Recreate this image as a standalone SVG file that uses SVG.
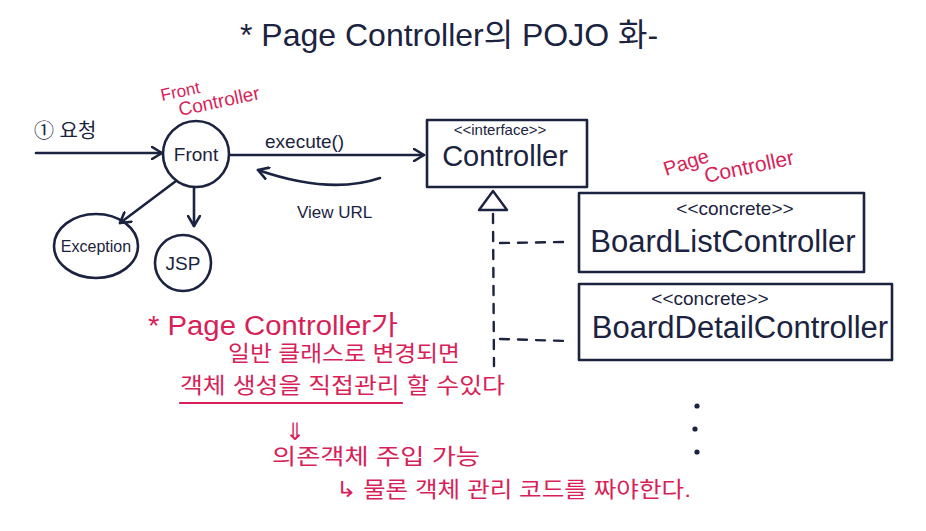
<svg xmlns="http://www.w3.org/2000/svg" width="926" height="531" viewBox="0 0 926 531">
<style>
.ink{fill:none;stroke:#1b2340;stroke-width:2.6;stroke-linecap:round;stroke-linejoin:round}
.dash{fill:none;stroke:#1b2340;stroke-width:2.4;stroke-dasharray:9 9;stroke-linecap:round}
.t{font-family:"Liberation Sans","Noto Sans CJK KR",sans-serif;fill:#1b2340}
.r{font-family:"Liberation Sans","Noto Sans CJK KR",sans-serif;fill:#d81f5a}
.rl{fill:none;stroke:#d81f5a;stroke-width:2.2;stroke-linecap:round}
</style>
<defs>
<marker id="open" markerWidth="14" markerHeight="14" refX="11" refY="7" orient="auto" markerUnits="userSpaceOnUse">
<path d="M1,1 L11,7 L1,13" fill="none" stroke="#1b2340" stroke-width="2.6" stroke-linecap="round" stroke-linejoin="round"/>
</marker>
</defs>
<rect width="926" height="531" fill="#ffffff"/>
<text class="t" x="240" y="46" font-size="32">* Page Controller의 POJO 화-</text>

<g id="request">
<text class="t" x="34" y="138" font-size="20">① 요청</text>
</g>

<g id="front">
<circle class="ink" cx="196" cy="154" r="33"/>
<text class="t" x="196" y="161" font-size="19" text-anchor="middle">Front</text>
<text class="r" x="162" y="101" font-size="17" transform="rotate(-12 162 101)">Front</text>
<text class="r" x="180" y="116" font-size="19" transform="rotate(-12 180 116)">Controller</text>
</g>

<g id="exception">
<ellipse class="ink" cx="96" cy="246" rx="42" ry="32"/>
<text class="t" x="96" y="252" font-size="16" text-anchor="middle">Exception</text>
</g>

<g id="jsp">
<circle class="ink" cx="183" cy="263" r="28"/>
<text class="t" x="183" y="270" font-size="19" text-anchor="middle">JSP</text>
</g>

<g id="controller">
<rect class="ink" x="427" y="120" width="160" height="67"/>
<text class="t" x="500" y="135" font-size="15" text-anchor="middle">&lt;&lt;interface&gt;&gt;</text>
<text class="t" x="505" y="166" font-size="29" text-anchor="middle">Controller</text>
</g>

<g id="pagecontroller-label">
<text class="r" x="666" y="176" font-size="20" transform="rotate(-18 666 176)">Page</text>
<text class="r" x="706" y="183" font-size="21" transform="rotate(-12 706 183)">Controller</text>
</g>

<g id="boardlist">
<rect class="ink" x="579" y="193" width="285" height="79"/>
<text class="t" x="735" y="215" font-size="19" text-anchor="middle">&lt;&lt;concrete&gt;&gt;</text>
<text class="t" x="723" y="252" font-size="31" text-anchor="middle">BoardListController</text>
</g>

<g id="boarddetail">
<rect class="ink" x="579" y="284" width="313" height="76"/>
<text class="t" x="710" y="305" font-size="19" text-anchor="middle">&lt;&lt;concrete&gt;&gt;</text>
<text class="t" x="740" y="338" font-size="31" text-anchor="middle">BoardDetailController</text>
</g>

<g id="connectors">
<line class="ink" x1="36" y1="153" x2="162" y2="153" marker-end="url(#open)"/>
<line class="ink" x1="176" y1="181" x2="120" y2="223" marker-end="url(#open)"/>
<line class="ink" x1="194" y1="188" x2="194" y2="226" marker-end="url(#open)"/>
<line class="ink" x1="230" y1="155" x2="424" y2="155" marker-end="url(#open)"/>
<text class="t" x="265" y="148" font-size="19">execute()</text>
<path class="ink" d="M380,178 Q330,195 258,170" marker-end="url(#open)"/>
<text class="t" x="297" y="218" font-size="17">View URL</text>
<path d="M493,191 L479,210 L507,210 Z" fill="#ffffff" stroke="#1b2340" stroke-width="2.4" stroke-linejoin="round"/>
<line class="dash" x1="493" y1="214" x2="494" y2="366"/>
<line class="dash" x1="500" y1="243" x2="565" y2="242"/>
<line class="dash" x1="500" y1="339" x2="566" y2="341"/>
<circle cx="697" cy="406" r="2.6" fill="#1b2340"/>
<circle cx="695" cy="429" r="2.6" fill="#1b2340"/>
<circle cx="697" cy="452" r="2.6" fill="#1b2340"/>
</g>

<g id="notes">
<text class="r" x="148" y="335" font-size="27" textLength="250" lengthAdjust="spacingAndGlyphs">* Page Controller가</text>
<text class="r" x="228" y="361" font-size="22" textLength="232" lengthAdjust="spacingAndGlyphs">일반 클래스로 변경되면</text>
<text class="r" x="180" y="393" font-size="22" textLength="325" lengthAdjust="spacingAndGlyphs">객체 생성을 직접관리 할 수있다</text>
<line class="rl" x1="180" y1="403" x2="402" y2="403"/>
<text class="r" x="285" y="440" font-size="24">⇓</text>
<text class="r" x="272" y="464" font-size="22" textLength="208" lengthAdjust="spacingAndGlyphs">의존객체 주입 가능</text>
<text class="r" x="336" y="497" font-size="22" textLength="355" lengthAdjust="spacingAndGlyphs">↳ 물론 객체 관리 코드를 짜야한다.</text>
</g>
</svg>
